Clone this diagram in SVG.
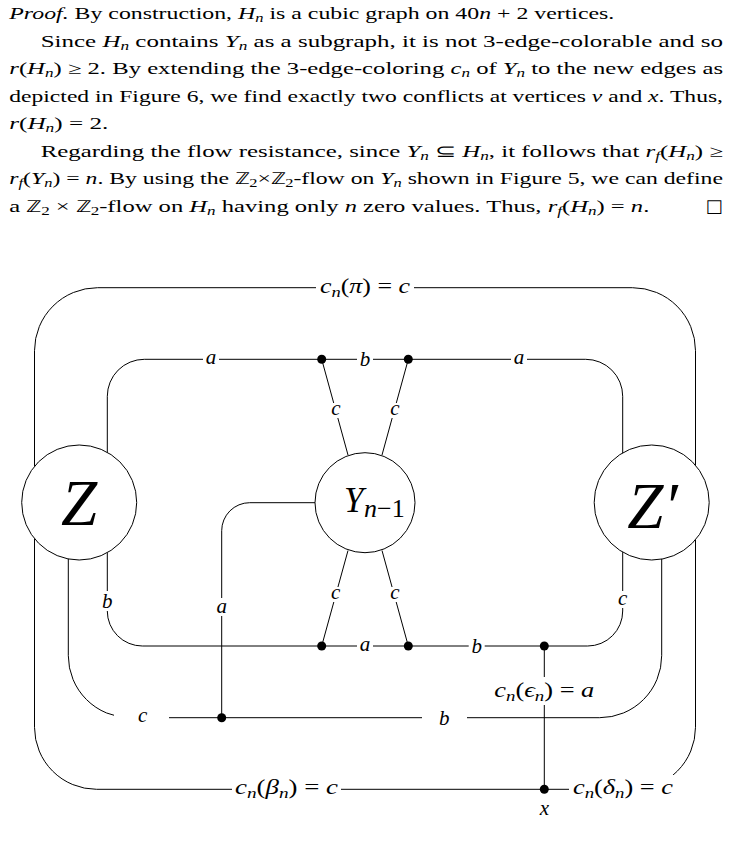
<svg xmlns="http://www.w3.org/2000/svg" width="730" height="861" viewBox="0 0 730 861">
<style>
.t{font-family:"Liberation Serif",serif;font-size:16.6px;fill:#000}
.m{font-family:"Liberation Serif",serif;font-size:21px;fill:#000}
.i{font-style:italic}
.s{font-size:11.5px}
.ms{font-size:15px}
.e{fill:none;stroke:#000;stroke-width:1}
.bg{fill:#fff}
.node{fill:#fff;stroke:#000;stroke-width:1}
.dot{fill:#000}
.big{font-size:65px}
</style>
<rect width="730" height="861" fill="#fff"/>
<g id="proof">
<text class="t" x="9.3" y="19" textLength="605" lengthAdjust="spacingAndGlyphs"><tspan class="i">Proof.</tspan> By construction, <tspan class="i">H</tspan><tspan class="i s" dy="3">n</tspan><tspan dy="-3"> is a cubic graph on 40</tspan><tspan class="i">n</tspan> + 2 vertices.</text>
<text class="t" x="40.7" y="46.5" textLength="682.3" lengthAdjust="spacingAndGlyphs">Since <tspan class="i">H</tspan><tspan class="i s" dy="3">n</tspan><tspan dy="-3"> contains </tspan><tspan class="i">Y</tspan><tspan class="i s" dy="3">n</tspan><tspan dy="-3"> as a subgraph, it is not 3-edge-colorable and so</tspan></text>
<text class="t" x="9.3" y="74" textLength="713.7" lengthAdjust="spacingAndGlyphs"><tspan class="i">r</tspan>(<tspan class="i">H</tspan><tspan class="i s" dy="3">n</tspan><tspan dy="-3">) ≥ 2.  By extending the 3-edge-coloring </tspan><tspan class="i">c</tspan><tspan class="i s" dy="3">n</tspan><tspan dy="-3"> of </tspan><tspan class="i">Y</tspan><tspan class="i s" dy="3">n</tspan><tspan dy="-3"> to the new edges as</tspan></text>
<text class="t" x="9.3" y="101.5" textLength="713.7" lengthAdjust="spacingAndGlyphs">depicted in Figure 6, we find exactly two conflicts at vertices <tspan class="i">v</tspan> and <tspan class="i">x</tspan>.  Thus,</text>
<text class="t" x="9.3" y="129" textLength="99" lengthAdjust="spacingAndGlyphs"><tspan class="i">r</tspan>(<tspan class="i">H</tspan><tspan class="i s" dy="3">n</tspan><tspan dy="-3">) = 2.</tspan></text>
<text class="t" x="40.7" y="156.5" textLength="682.3" lengthAdjust="spacingAndGlyphs">Regarding the flow resistance, since <tspan class="i">Y</tspan><tspan class="i s" dy="3">n</tspan><tspan dy="-3"> ⊆ </tspan><tspan class="i">H</tspan><tspan class="i s" dy="3">n</tspan><tspan dy="-3">, it follows that </tspan><tspan class="i">r</tspan><tspan class="i s" dy="3">f</tspan><tspan dy="-3">(</tspan><tspan class="i">H</tspan><tspan class="i s" dy="3">n</tspan><tspan dy="-3">) ≥</tspan></text>
<text class="t" x="9.3" y="184" textLength="713.7" lengthAdjust="spacingAndGlyphs"><tspan class="i">r</tspan><tspan class="i s" dy="3">f</tspan><tspan dy="-3">(</tspan><tspan class="i">Y</tspan><tspan class="i s" dy="3">n</tspan><tspan dy="-3">) = </tspan><tspan class="i">n</tspan>. By using the ℤ<tspan class="s" dy="3">2</tspan><tspan dy="-3">×ℤ</tspan><tspan class="s" dy="3">2</tspan><tspan dy="-3">-flow on </tspan><tspan class="i">Y</tspan><tspan class="i s" dy="3">n</tspan><tspan dy="-3"> shown in Figure 5, we can define</tspan></text>
<text class="t" x="9.3" y="211.5" textLength="640" lengthAdjust="spacingAndGlyphs">a ℤ<tspan class="s" dy="3">2</tspan><tspan dy="-3"> × ℤ</tspan><tspan class="s" dy="3">2</tspan><tspan dy="-3">-flow on </tspan><tspan class="i">H</tspan><tspan class="i s" dy="3">n</tspan><tspan dy="-3"> having only </tspan><tspan class="i">n</tspan> zero values. Thus, <tspan class="i">r</tspan><tspan class="i s" dy="3">f</tspan><tspan dy="-3">(</tspan><tspan class="i">H</tspan><tspan class="i s" dy="3">n</tspan><tspan dy="-3">) = </tspan><tspan class="i">n</tspan>.</text>
<text x="714" y="212" text-anchor="middle" font-family="DejaVu Sans" font-size="18">□</text>
</g>
<g id="connectors">
<path class="e" d="M34.5,502 V350.7 A63,63 0 0 1 97.5,287.7 H632.5 A63,63 0 0 1 695.5,350.7 V502"/>
<path class="e" d="M107.3,502 V396.3 A37,37 0 0 1 144.3,359.3 H321.7"/>
<path class="e" d="M321.7,359.3 H408.3"/>
<path class="e" d="M408.3,359.3 H585.7 A37,37 0 0 1 622.7,396.3 V502"/>
<path class="e" d="M321.7,359.3 L348,455"/>
<path class="e" d="M408.3,359.3 L382,455"/>
<path class="e" d="M348,550.5 L321.7,646"/>
<path class="e" d="M382,550.5 L408.3,646"/>
<path class="e" d="M107.3,502 V611 A35,35 0 0 0 142.3,646 H321.7"/>
<path class="e" d="M321.7,646 H408.3"/>
<path class="e" d="M408.3,646 H544.3"/>
<path class="e" d="M544.3,646 H587.7 A35,35 0 0 0 622.7,611 V502"/>
<path class="e" d="M330,502.7 H249.7 A28,28 0 0 0 221.7,530.7 V717.7"/>
<path class="e" d="M68.3,502 V655.7 A62,62 0 0 0 130.3,717.7 H221.7"/>
<path class="e" d="M221.7,717.7 H599.7 A62,62 0 0 0 661.7,655.7 V502"/>
<path class="e" d="M544.3,646 V789.3"/>
<path class="e" d="M34.5,502 V727.3 A62,62 0 0 0 96.5,789.3 H544.3"/>
<path class="e" d="M544.3,789.3 H633.5 A62,62 0 0 0 695.5,727.3 V502"/>
</g>
<g id="labels">
<rect class="bg" x="316" y="277" width="98" height="24"/>
<text class="m" x="365" y="293" text-anchor="middle" textLength="90" lengthAdjust="spacingAndGlyphs"><tspan class="i">c</tspan><tspan class="i ms" dy="4">n</tspan><tspan dy="-4">(</tspan><tspan class="i">π</tspan>) = <tspan class="i">c</tspan></text>
<rect class="bg" x="203" y="350" width="16" height="18"/>
<text class="m i" x="211" y="364" text-anchor="middle">a</text>
<rect class="bg" x="357" y="349" width="16" height="20"/>
<text class="m i" x="365" y="366.3" text-anchor="middle">b</text>
<rect class="bg" x="511" y="350" width="16" height="18"/>
<text class="m i" x="519" y="364" text-anchor="middle">a</text>
<rect class="bg" x="329" y="403" width="14" height="15"/>
<text class="m i" x="335.8" y="414.5" text-anchor="middle">c</text>
<rect class="bg" x="388" y="403" width="14" height="15"/>
<text class="m i" x="395" y="414.5" text-anchor="middle">c</text>
<rect class="bg" x="329" y="587" width="14" height="15"/>
<text class="m i" x="335.7" y="599" text-anchor="middle">c</text>
<rect class="bg" x="388" y="587" width="14" height="15"/>
<text class="m i" x="395" y="599" text-anchor="middle">c</text>
<rect class="bg" x="357" y="637" width="16" height="18"/>
<text class="m i" x="365" y="650.5" text-anchor="middle">a</text>
<rect class="bg" x="468.7" y="636" width="16" height="20"/>
<text class="m i" x="476.7" y="653" text-anchor="middle">b</text>
<rect class="bg" x="99" y="591" width="17" height="20"/>
<text class="m i" x="107.3" y="608" text-anchor="middle">b</text>
<rect class="bg" x="214" y="598" width="16" height="18"/>
<text class="m i" x="221.7" y="612.5" text-anchor="middle">a</text>
<rect class="bg" x="615" y="591" width="16" height="17"/>
<text class="m i" x="622.7" y="605" text-anchor="middle">c</text>
<rect class="bg" x="114" y="706" width="55" height="24"/>
<text class="m i" x="142.7" y="722" text-anchor="middle">c</text>
<rect class="bg" x="422" y="704" width="45" height="28"/>
<text class="m i" x="444.3" y="724.7" text-anchor="middle">b</text>
<rect class="bg" x="492" y="677" width="104" height="28"/>
<text class="m" x="544.3" y="696.5" text-anchor="middle" textLength="100" lengthAdjust="spacingAndGlyphs"><tspan class="i">c</tspan><tspan class="i ms" dy="4">n</tspan><tspan dy="-4">(</tspan><tspan class="i">ϵ</tspan><tspan class="i ms" dy="4">n</tspan><tspan dy="-4">) = </tspan><tspan class="i">a</tspan></text>
<rect class="bg" x="232" y="776" width="109" height="27"/>
<text class="m" x="286.5" y="794" text-anchor="middle" textLength="103" lengthAdjust="spacingAndGlyphs"><tspan class="i">c</tspan><tspan class="i ms" dy="4">n</tspan><tspan dy="-4">(</tspan><tspan class="i">β</tspan><tspan class="i ms" dy="4">n</tspan><tspan dy="-4">) = </tspan><tspan class="i">c</tspan></text>
<rect class="bg" x="569" y="775" width="107" height="28"/>
<text class="m" x="623" y="794" text-anchor="middle" textLength="100" lengthAdjust="spacingAndGlyphs"><tspan class="i">c</tspan><tspan class="i ms" dy="4">n</tspan><tspan dy="-4">(</tspan><tspan class="i">δ</tspan><tspan class="i ms" dy="4">n</tspan><tspan dy="-4">) = </tspan><tspan class="i">c</tspan></text>
<text class="m i" x="544.3" y="815" text-anchor="middle">x</text>
</g>
<g id="node-Z">
<circle class="node" cx="79.2" cy="502.5" r="57.5"/>
<text class="m i big" x="79.2" y="525" text-anchor="middle">Z</text>
</g>
<g id="node-Y">
<circle class="node" cx="365" cy="502.7" r="50"/>
<text class="m" x="344" y="511.7"><tspan class="i" style="font-size:35px">Y</tspan><tspan x="364" y="516.7" style="font-size:26px"><tspan class="i">n</tspan>−1</tspan></text>
</g>
<g id="node-Zp">
<circle class="node" cx="651.7" cy="502.5" r="57.5"/>
<text class="m i big" x="652.5" y="528" text-anchor="middle">Z′</text>
</g>
<g id="vertices">
<g id="v1"><circle class="dot" cx="321.7" cy="359.3" r="4.5"/></g>
<g id="v2"><circle class="dot" cx="408.3" cy="359.3" r="4.5"/></g>
<g id="v3"><circle class="dot" cx="321.7" cy="646" r="4.5"/></g>
<g id="v4"><circle class="dot" cx="408.3" cy="646" r="4.5"/></g>
<g id="v5"><circle class="dot" cx="544.3" cy="646" r="4.5"/></g>
<g id="v6"><circle class="dot" cx="221.7" cy="717.7" r="4.5"/></g>
<g id="vx"><circle class="dot" cx="544.3" cy="789.3" r="4.5"/></g>
</g>
</svg>
